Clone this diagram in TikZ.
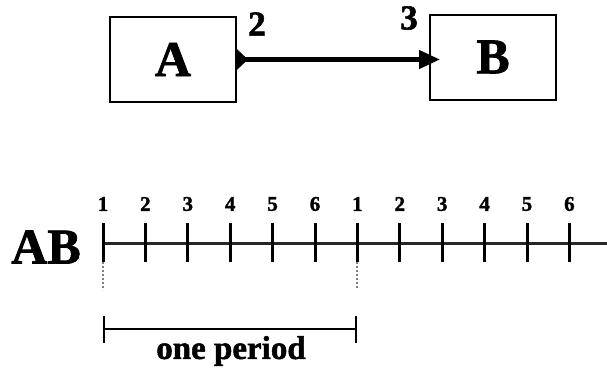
\documentclass[tikz,border=0pt]{standalone}
\usepackage{fontspec}
\setmainfont{Liberation Serif}[BoldFeatures={FakeBold=1.5}]
\usetikzlibrary{arrows.meta, positioning}
\tikzset{
  blk/.style      = {draw, line width=2pt, minimum width=126pt, minimum height=85pt,
                     inner sep=0pt, font=\bfseries\fontsize{50}{50}\selectfont},
  flow/.style     = {{Triangle[reversed, length=11pt, width=20pt]}-{Triangle[length=21pt, width=18pt]},
                     line width=4.5pt},
  portlbl/.style  = {font=\bfseries\fontsize{35}{35}\selectfont, inner sep=0pt},
  tickmark/.style = {line width=3pt},
  ticklbl/.style  = {font=\bfseries\fontsize{21}{21}\selectfont, inner sep=0pt},
  axisline/.style = {line width=3pt, black!85},
  guide/.style    = {gray, dotted, line width=2pt},
  period/.style   = {{Bar[width=27pt]}-{Bar[width=27pt]}, line width=2pt},
}

\begin{document}
\begin{tikzpicture}[x=1pt, y=-1pt]
  \useasboundingbox (0,0) rectangle (607,388);
  % blocks and connector
  \node[blk] (A) at (173,59.5) {A};
  \node[blk] (B) at (493,57) {B};
  \draw[flow, shorten >=-11pt] (A.east) -- (A.east -| B.west);
  \node[portlbl] (pa) at (257,24) {2};
  \node[portlbl] (pb) at (409,18) {3};
  % time axis
  \node[font=\bfseries\fontsize{50}{50}\selectfont, inner sep=0pt] (ab) at (46,247) {AB};
  \coordinate (axend) at (607,243);
  \foreach \i/\n in {0/1, 1/2, 2/3, 3/4, 4/5, 5/6, 6/1, 7/2, 8/3, 9/4, 10/5, 11/6} {
    \coordinate (t\i) at (103+42.4*\i,243);
    \node[ticklbl] (l\i) at ([yshift=39pt]t\i) {\n};
  }
  \draw[axisline] (t0) -- (axend);
  \foreach \i in {0,...,11}
    \draw[tickmark] ([yshift=20pt]t\i) -- ([yshift=-19pt]t\i);
  \draw[guide] ([yshift=-19pt]t0) -- ([yshift=-47pt]t0);
  \draw[guide] ([yshift=-19pt]t6) -- ([yshift=-45pt]t6);
  % one period
  \draw[period] ([yshift=-86pt]t0) -- ([yshift=-86pt]t6);
  \node[font=\bfseries\fontsize{33}{33}\selectfont, inner sep=0pt] (op) at (231,351) {one period};
\end{tikzpicture}
\end{document}
